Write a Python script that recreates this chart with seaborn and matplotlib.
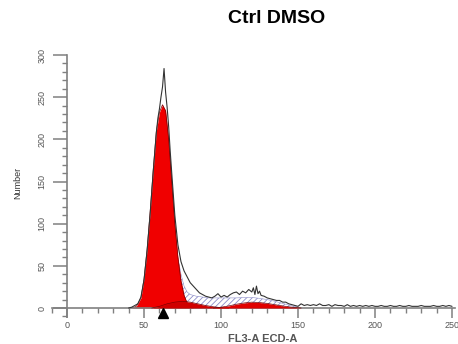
import matplotlib
matplotlib.use('Agg')
import matplotlib.pyplot as plt
from matplotlib.ticker import MultipleLocator
import seaborn as sns

# histogram trace (channel, count)
hist_x = [40, 42, 44, 46, 48, 50, 52, 54, 56, 58, 59, 60, 61, 62, 63, 64, 65, 66, 67, 68,
          70, 72, 74, 76, 78, 80, 82, 84, 86, 88, 90, 92, 94, 96, 98, 100, 102, 104, 106, 108,
          110, 112, 114, 116, 118, 120, 121, 122, 123, 124, 125, 126, 128, 130, 132, 134, 136, 138, 140, 142,
          144, 146, 148, 150, 152, 154, 156, 158, 160, 162, 164, 166, 168, 170, 172, 174, 176, 178, 180, 182,
          184, 186, 188, 190, 192, 194, 196, 198, 200, 202, 204, 206, 208, 210, 212, 214, 216, 218, 220, 222,
          224, 226, 228, 230, 232, 234, 236, 238, 240, 242, 244, 246, 248, 250]
hist_y = [0, 1, 3, 5, 13, 33, 68, 112, 162, 208, 225, 236, 250, 262, 284, 256, 238, 215, 186, 160,
          110, 75, 55, 44, 37, 30, 26, 22, 18, 16, 14, 13, 12, 14, 17, 13, 15, 13, 16, 18,
          19, 16, 20, 18, 22, 19, 24, 16, 26, 17, 20, 15, 14, 12, 11, 10, 9, 9, 7, 7,
          5, 4, 3, 2, 5, 3, 4, 3, 4, 3, 5, 3, 3, 4, 2, 4, 3, 3, 2, 4,
          2, 3, 2, 3, 2, 3, 2, 3, 2, 2, 3, 2, 2, 3, 2, 2, 3, 2, 2, 3,
          2, 2, 2, 3, 2, 2, 2, 3, 2, 2, 3, 2, 3, 2]

# G1 fit
g1_x = [42, 45, 48, 50, 52, 54, 56, 58, 60, 62, 64, 66, 68, 70, 72, 74, 76, 78, 80, 82]
g1_y = [0, 2, 12, 35, 70, 115, 165, 210, 232, 241, 234, 200, 150, 100, 60, 32, 15, 6, 2, 0]

# S phase (lower dark red part)
s_low_x = [55, 60, 65, 70, 75, 80, 85, 90, 95, 100, 105]
s_low_y = [0, 2, 5, 7, 8, 7, 5, 3, 1.5, 0.5, 0]

# S phase total (hatched)
s_top_x = [72, 74, 76, 78, 80, 84, 88, 92, 96, 100, 105, 110, 115, 120, 125, 130, 135, 140, 145, 150, 152]
s_top_y = [60, 40, 26, 19, 16, 14, 13, 12, 12, 12, 12, 12, 12.5, 12.5, 11.5, 10, 8, 5.5, 3, 1, 0]

# G2 fit
g2_x = [95, 100, 105, 110, 115, 120, 125, 130, 135, 140, 145, 150, 152]
g2_y = [0, 1, 2.5, 4.5, 6, 7, 6.5, 5.5, 4, 2.5, 1.2, 0.3, 0]

marker_x = 62

sns.set_style("ticks")
plt.rcParams['font.family'] = ['Liberation Sans', 'DejaVu Sans']
plt.rcParams['hatch.linewidth'] = 0.6
plt.rcParams['hatch.color'] = '#8c8cc8'

fig = plt.figure(figsize=(4.58, 3.44), dpi=100)
ax = fig.add_axes([0.1127, 0.0776, 0.881, 0.7625])

red = '#f00000'
ax.fill_between(s_top_x, s_top_y, 0, facecolor='white', edgecolor='#8c8cc8',
                hatch='//////', lw=0.4, zorder=1)
ax.fill_between(g1_x, g1_y, 0, color=red, lw=0, zorder=2)
ax.plot(g1_x, g1_y, color='#7a0000', lw=0.5, zorder=2.5)
ax.fill_between(s_low_x, s_low_y, 0, color='#d00000', lw=0, zorder=3)
ax.plot(s_low_x, s_low_y, color='#7a0000', lw=0.5, zorder=3)
ax.fill_between(g2_x, g2_y, 0, color='#e00000', lw=0, zorder=3)
ax.plot(g2_x, g2_y, color='#7a0000', lw=0.5, zorder=3)

sns.lineplot(x=hist_x, y=hist_y, ax=ax, color='#333333', lw=0.8, zorder=4)

ax.plot(marker_x, -6, marker='^', color='black', ms=7, clip_on=False, zorder=5)

ax.set_xlim(-10, 252)
ax.set_ylim(-11, 300)

for s in ['top', 'right']:
    ax.spines[s].set_visible(False)
ax.spines['left'].set_position(('data', 0))
ax.spines['bottom'].set_position(('data', 0))
for s in ['left', 'bottom']:
    ax.spines[s].set_color('#808080')
    ax.spines[s].set_linewidth(1.2)

ax.xaxis.set_major_locator(MultipleLocator(50))
ax.xaxis.set_minor_locator(MultipleLocator(10))
ax.yaxis.set_major_locator(MultipleLocator(50))
ax.yaxis.set_minor_locator(MultipleLocator(10))
ax.tick_params(which='both', bottom=True, left=True, top=False, right=False)
ax.tick_params(axis='x', which='major', direction='out', length=7, width=1.1,
               color='#808080', labelsize=6.5, labelcolor='#555555', pad=2)
ax.tick_params(axis='x', which='minor', direction='out', length=3.6, width=1,
               color='#808080')
ax.tick_params(axis='y', which='major', direction='out', length=10, width=1.1,
               color='#808080', labelsize=6.5, labelcolor='#555555', pad=5,
               labelrotation=90)
ax.tick_params(axis='y', which='minor', direction='out', length=3.6, width=1,
               color='#808080')
for lab in ax.get_yticklabels():
    lab.set_va('center')

ax.set_xlabel('FL3-A ECD-A', fontsize=8, fontweight='bold', color='#555555')
ax.xaxis.set_label_coords(0.524, -0.064)
ax.set_ylabel('Number', fontsize=6.5, color='#333333')
ax.yaxis.set_label_coords(-0.073, 0.512)

fig.text(0.605, 0.945, 'Ctrl DMSO', ha='center', va='center',
         fontsize=14, fontweight='bold', color='black')

fig.savefig('out.png', dpi=100)
